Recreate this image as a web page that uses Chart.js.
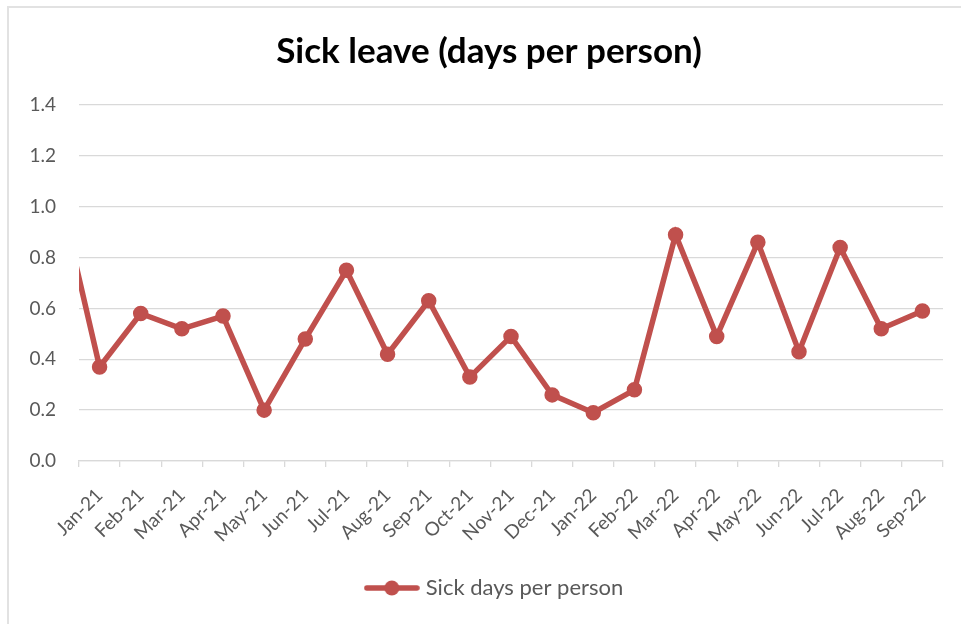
<!DOCTYPE html>
<html lang="en">
<head>
    <meta charset="UTF-8" />
    <title>Sick leave</title>
    <script src="https://cdn.jsdelivr.net/npm/chart.js"></script>
    <style>
        html, body { margin: 0; padding: 0; background: #fff; overflow: hidden; }
        .frame {
            position: absolute; left: 7px; top: 6px; width: 1000px; height: 700px;
            border-left: 2px solid #e2e2e2; border-top: 2px solid #e2e2e2;
        }
        .wrap { position: absolute; left: 0; top: 0; width: 961px; height: 624px; }
    </style>
</head>
<body>
    <div class="frame"></div>
    <div class="wrap">
        <canvas id="sickChart" width="961" height="624"></canvas>
    </div>

    <script>
    // Maanden (Dec-20 valt net buiten beeld, alleen het lijnstuk is te zien)
    const months = ['Dec-20', 'Jan-21', 'Feb-21', 'Mar-21', 'Apr-21', 'May-21', 'Jun-21', 'Jul-21',
        'Aug-21', 'Sep-21', 'Oct-21', 'Nov-21', 'Dec-21', 'Jan-22', 'Feb-22', 'Mar-22',
        'Apr-22', 'May-22', 'Jun-22', 'Jul-22', 'Aug-22', 'Sep-22'];
    const sickDays = [1.07, 0.37, 0.58, 0.52, 0.57, 0.20, 0.48, 0.75, 0.42, 0.63, 0.33,
        0.49, 0.26, 0.19, 0.28, 0.89, 0.49, 0.86, 0.43, 0.84, 0.52, 0.59];
    const firstShown = 'Jan-21';
    const yTicks = [0, 0.2, 0.4, 0.6, 0.8, 1.0, 1.2, 1.4];

    const red = '#c0504d';
    const grey = '#595959';
    const fontName = 'Lato';

    // legend marker: lijn met bolletje
    const marker = document.createElement('canvas');
    marker.width = 56;
    marker.height = 16;
    const mctx = marker.getContext('2d');
    mctx.strokeStyle = red;
    mctx.lineWidth = 5.5;
    mctx.lineCap = 'round';
    mctx.beginPath();
    mctx.moveTo(3, 8);
    mctx.lineTo(53, 8);
    mctx.stroke();
    mctx.fillStyle = red;
    mctx.beginPath();
    mctx.arc(28, 8, 7.5, 0, Math.PI * 2);
    mctx.fill();

    // y-labels niet afknippen en legenda iets naar rechts
    const nudgePlugin = {
        id: 'nudge',
        afterLayout(chart) {
            chart.scales.y.left = 0;
            chart.legend.left += 7;
            chart.legend.right += 7;
        }
    };

    const ctx = document.getElementById('sickChart').getContext('2d');
    const sickChart = new Chart(ctx, {
        type: 'line',
        data: {
            labels: months,
            datasets: [{
                label: 'Sick days per person',
                data: sickDays,
                borderColor: red,
                backgroundColor: red,
                borderWidth: 5.5,
                pointRadius: 7,
                pointBorderWidth: 1.5,
                pointBackgroundColor: red,
                pointBorderColor: red,
                clip: { left: 0, top: false, right: false, bottom: false }
            }]
        },
        plugins: [nudgePlugin],
        options: {
            responsive: false,
            animation: false,
            layout: {
                // links extra ruimte zodat titel en legenda iets rechts van het midden staan
                padding: { left: 35, right: 18, top: 10, bottom: 15 }
            },
            plugins: {
                title: {
                    display: true,
                    text: 'Sick leave (days per person)',
                    color: '#000',
                    font: { family: fontName, size: 35, weight: 'bold' },
                    padding: { top: 21, bottom: 32 }
                },
                legend: {
                    position: 'bottom',
                    labels: {
                        usePointStyle: true,
                        pointStyle: marker,
                        pointStyleWidth: 46,
                        color: grey,
                        font: { family: fontName, size: 22 },
                        padding: 10
                    }
                },
                tooltip: { enabled: false }
            },
            scales: {
                x: {
                    min: firstShown,
                    offset: true,
                    grid: {
                        offset: true,
                        drawOnChartArea: false,
                        drawTicks: true,
                        tickLength: 6,
                        color: '#d9d9d9',
                        lineWidth: 1.3
                    },
                    border: { display: true, color: '#d9d9d9', width: 1.3 },
                    ticks: {
                        autoSkip: false,
                        maxRotation: 45,
                        minRotation: 45,
                        color: grey,
                        padding: 17,
                        font: { family: fontName, size: 19 }
                    },
                    afterFit: function (scale) { scale.height = 106; }
                },
                y: {
                    min: 0,
                    max: 1.4,
                    afterBuildTicks: function (scale) {
                        scale.ticks = yTicks.map(v => ({ value: v }));
                    },
                    grid: {
                        drawTicks: false,
                        color: '#d9d9d9',
                        lineWidth: 1.3
                    },
                    border: { display: false },
                    ticks: {
                        color: grey,
                        padding: 23,
                        font: { family: fontName, size: 19 },
                        callback: v => v.toFixed(1)
                    },
                    afterFit: function (scale) { scale.width = 44; }
                }
            }
        }
    });
    </script>
</body>
</html>
